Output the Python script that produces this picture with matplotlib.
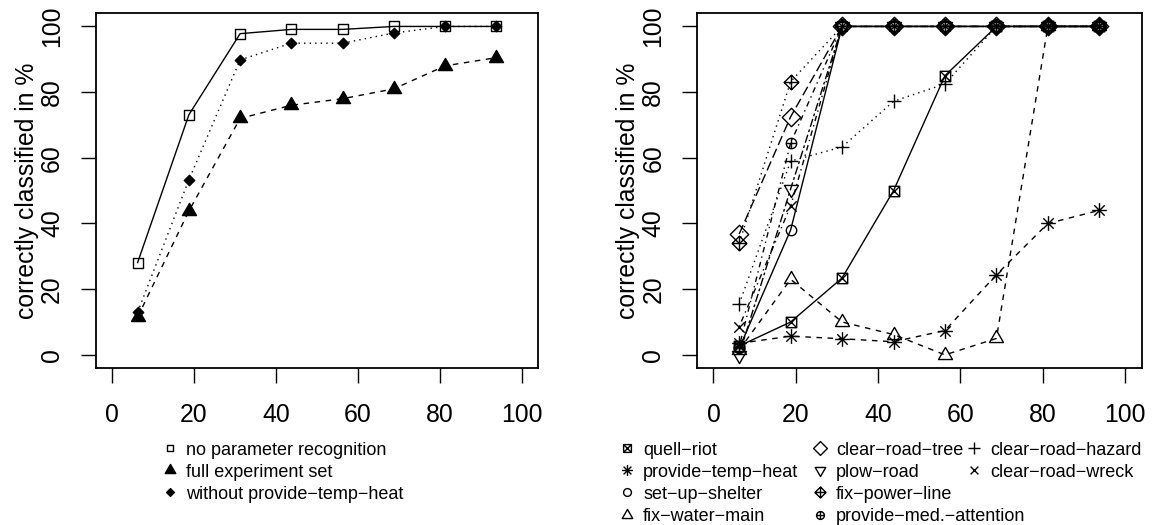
import numpy as np
import matplotlib
matplotlib.use("Agg")
import matplotlib.pyplot as plt
from matplotlib.path import Path
from matplotlib.lines import Line2D

plt.rcParams["font.family"] = ["Liberation Sans", "DejaVu Sans"]

# Data
x_pct = [6.25, 18.75, 31.25, 43.75, 56.25, 68.75, 81.25, 93.75]

left_labels = ["no parameter recognition", "full experiment set",
               "without provide\u2212temp\u2212heat"]
no_param = [28.1, 73.1, 97.8, 99.1, 99.1, 100, 100, 100]
full_set = [11.5, 43.8, 72.0, 76.0, 78.0, 81.0, 88.0, 90.5]
without_pth = [13.0, 53.3, 89.8, 94.9, 94.9, 98.0, 100, 100]

right_labels = ["quell\u2212riot", "provide\u2212temp\u2212heat", "set\u2212up\u2212shelter",
                "fix\u2212water\u2212main", "clear\u2212road\u2212tree", "plow\u2212road",
                "fix\u2212power\u2212line", "provide\u2212med.\u2212attention",
                "clear\u2212road\u2212hazard", "clear\u2212road\u2212wreck"]
quell_riot = [2.7, 10.0, 23.4, 50.0, 85.0, 100, 100, 100]
provide_temp_heat = [3.5, 5.7, 4.9, 4.0, 7.4, 24.4, 40.0, 44.0]
set_up_shelter = [2.0, 38.0, 100, 100, 100, 100, 100, 100]
fix_water_main = [1.5, 23.0, 10.0, 6.2, 0.0, 5.0, 100, 100]
clear_road_tree = [36.8, 72.5, 100, 100, 100, 100, 100, 100]
plow_road = [0.0, 50.5, 100, 100, 100, 100, 100, 100]
fix_power_line = [34.0, 83.2, 100, 100, 100, 100, 100, 100]
provide_med = [2.5, 64.5, 100, 100, 100, 100, 100, 100]
clear_road_hazard = [15.5, 59.0, 63.3, 77.2, 82.5, 100, 100, 100]
clear_road_wreck = [8.6, 45.3, 100, 100, 100, 100, 100, 100]

ticks = [0, 20, 40, 60, 80, 100]


# R-like plotting symbols built as paths (unit = symbol radius)
def seg(a, b):
    return Path([a, b], [Path.MOVETO, Path.LINETO])


def poly(pts):
    return Path(pts + [pts[0]], [Path.MOVETO] + [Path.LINETO] * (len(pts) - 1) + [Path.CLOSEPOLY])


def plus(h):
    return Path.make_compound_path(seg((-h, 0), (h, 0)), seg((0, -h), (0, h)))


def cross(h):
    return Path.make_compound_path(seg((-h, -h), (h, h)), seg((-h, h), (h, -h)))


def square(h):
    return poly([(-h, -h), (h, -h), (h, h), (-h, h)])


def diamond(h):
    return poly([(0, h), (h, 0), (0, -h), (-h, 0)])


circle = Path.circle((0, 0), 1.0)
tri_up = poly([(0, 1.555), (1.347, -0.778), (-1.347, -0.778)])
tri_dn = poly([(0, -1.555), (1.347, 0.778), (-1.347, 0.778)])
S2 = np.sqrt(2)

pch = {
    0: square(0.886),
    1: circle,
    2: tri_up,
    3: plus(S2),
    4: cross(1.0),
    5: diamond(1.772),
    6: tri_dn,
    7: Path.make_compound_path(square(1.0), cross(1.0)),
    8: Path.make_compound_path(cross(1.0), plus(S2)),
    9: Path.make_compound_path(diamond(S2), plus(S2)),
    10: Path.make_compound_path(Path.circle((0, 0), 1.0), plus(1.0)),
    17: tri_up,
    18: diamond(1.0),
}

R_PT = 5.2 * 0.72  # symbol radius in points


def msize(p, scale=1.0):
    return 2 * np.abs(pch[p].vertices).max() * R_PT * scale


lty = {
    1: "-",
    2: (0, (4, 4)),
    3: (0, (1, 3)),
    4: (0, (1, 3, 4, 3)),
    5: (0, (7, 3)),
    6: (0, (2, 2, 6, 2)),
}

left_series = [(no_param, 0, 1), (full_set, 17, 2), (without_pth, 18, 3)]
right_series = [
    (quell_riot, 7, 1), (provide_temp_heat, 8, 2), (set_up_shelter, 1, 1),
    (fix_water_main, 2, 2), (clear_road_tree, 5, 5), (plow_road, 6, 6),
    (fix_power_line, 9, 3), (provide_med, 10, 4), (clear_road_hazard, 3, 3),
    (clear_road_wreck, 4, 4),
]

W, H = 1156, 525
fig = plt.figure(figsize=(W / 100, H / 100), dpi=100)

LW = 1.0
FS = 17.8


def filled(p):
    return p in (17, 18)


def setup(ax, left_px):
    ax.set_xlim(-4, 104)
    ax.set_ylim(-4, 104)
    ax.set_xticks(ticks)
    ax.set_yticks(ticks, [str(t) for t in ticks], rotation=90, va="center")
    ax.tick_params(axis="both", direction="out", length=10.8, width=1.0,
                   labelsize=FS, color="black")
    ax.tick_params(axis="x", pad=14.4)
    ax.tick_params(axis="y", pad=12)
    for s in ax.spines.values():
        s.set_linewidth(1.3)
    ax.set_ylabel("correctly classified in %", fontsize=FS, va="center", ha="center")
    w = ax.get_position().width * W
    ax.yaxis.set_label_coords((27 - 95.6) / w, 0.5)


def draw(ax, series):
    for vals, p, lt in series:
        ax.plot(x_pct, vals, color="black", lw=LW, linestyle=lty[lt],
                marker=pch[p], ms=msize(p), mew=LW,
                mfc="black" if filled(p) else "none", mec="black")


ax1 = fig.add_axes([95.6 / W, (H - 368) / H, 442.8 / W, (368 - 13.3) / H])
ax2 = fig.add_axes([697 / W, (H - 368) / H, 444.5 / W, (368 - 13.3) / H])
draw(ax1, left_series)
draw(ax2, right_series)
setup(ax1, 95.6)
setup(ax2, 697)


def handle(p):
    return Line2D([], [], linestyle="none", marker=pch[p], ms=msize(p, 0.75),
                  mew=LW, mfc="black" if filled(p) else "none", mec="black")


def column(items, x_marker, y_top):
    hs = [handle(p) for p, _ in items]
    labs = [lab for _, lab in items]
    fig.legend(hs, labs, loc="upper left",
               bbox_to_anchor=((x_marker - 9) / W, (H - y_top) / H),
               bbox_transform=fig.transFigure, frameon=False, borderpad=0,
               borderaxespad=0, handlelength=1.0, handletextpad=0.39,
               labelspacing=0.28, fontsize=13)


LEG_TOP = 441.7
column([(p, lab) for (_, p, _), lab in zip(left_series, left_labels)], 170, LEG_TOP)
rl = [(p, lab) for (_, p, _), lab in zip(right_series, right_labels)]
column(rl[0:4], 627, LEG_TOP)
column(rl[4:8], 820, LEG_TOP)
column(rl[8:10], 974, LEG_TOP)

fig.savefig("out.png", dpi=100)
